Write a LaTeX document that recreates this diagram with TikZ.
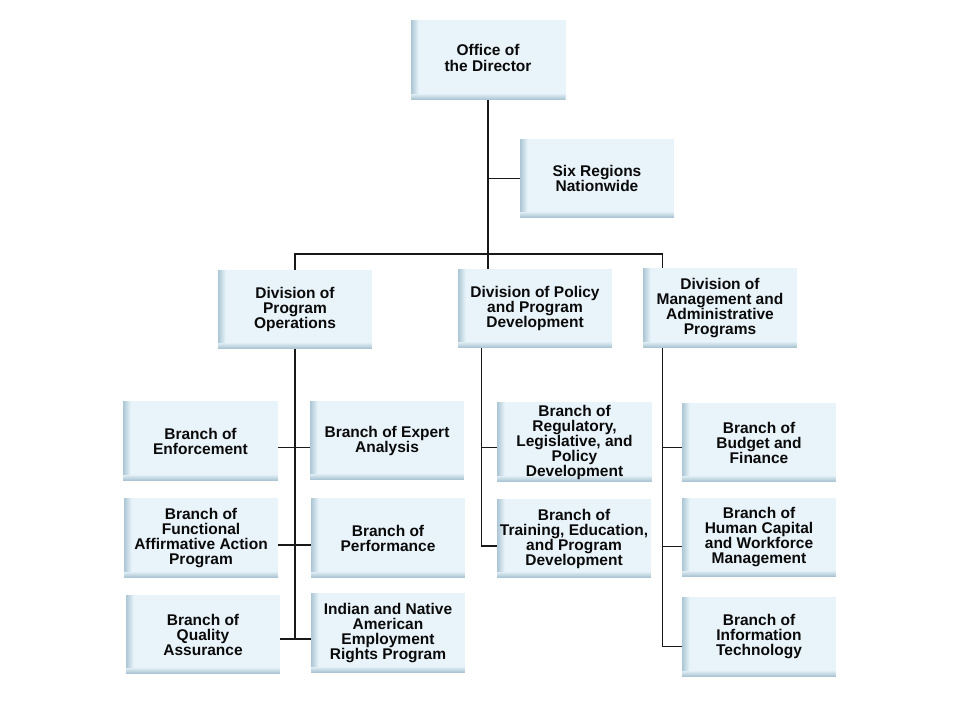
\documentclass[tikz,border=0pt]{standalone}
\usepackage{fontspec}
\setmainfont{Liberation Sans}
\usetikzlibrary{calc}
\definecolor{boxfill}{RGB}{233,244,250}
\definecolor{boxedge}{RGB}{172,198,212}
\definecolor{linec}{RGB}{25,25,25}
\definecolor{txt}{RGB}{10,10,10}
\tikzset{
  orgbox/.style={minimum width=154pt, minimum height=79pt, inner sep=0pt,
    fill=boxfill, align=center, text=txt,
    font=\fontsize{15.5}{15}\selectfont\bfseries,
    path picture={
      \foreach \i in {0,...,7}{
        \pgfmathsetmacro{\p}{100-\i*13}
        \fill[boxedge!\p!boxfill]
          ([xshift=\i pt]path picture bounding box.south west) rectangle ([xshift=\i pt+1.05pt]path picture bounding box.north west);
      }
      \foreach \i in {0,...,5}{
        \pgfmathsetmacro{\p}{100-\i*17}
        \fill[boxedge!\p!boxfill]
          ([yshift=\i pt]path picture bounding box.south west) rectangle ([yshift=\i pt+1.05pt]path picture bounding box.south east);
      }
    }},
  conn/.style={draw=linec, line width=1.3pt}
}
\begin{document}
\begin{tikzpicture}[x=1pt,y=-1pt]
\useasboundingbox (0,0) rectangle (960,720);
\fill[white] (0,0) rectangle (960,720);

\node[orgbox, minimum width=155pt, minimum height=80pt] (dir) at (488,60)
  {\raisebox{7pt}{\begin{tabular}{@{}c@{}}Office of\\the Director\end{tabular}}};
\node[orgbox] (six) at (597,178.5) {Six Regions\\ Nationwide};

\node[orgbox] (dpo) at (295,309.5) {Division of\\Program\\Operations};
\node[orgbox] (dpp) at (535,308.5) {Division of Policy\\and Program\\Development};
\node[orgbox, minimum height=80pt] (dma) at (720,308) {Division of\\Management and\\Administrative\\Programs};

\node[orgbox, minimum width=155pt, minimum height=80pt] (benf) at (200.5,441) {Branch of\\Enforcement};
\node[orgbox] (bexp) at (387,440.5) {Branch of Expert\\Analysis};
\node[orgbox, minimum height=80pt] (bfun) at (201,538) {Branch of\\Functional\\Affirmative Action\\Program};
\node[orgbox, minimum height=80pt] (bper) at (388,538) {Branch of\\Performance};
\node[orgbox] (bqa) at (203,634.5) {Branch of\\Quality\\Assurance};
\node[orgbox, minimum height=80pt] (bind) at (388,633) {Indian and Native\\American\\Employment\\Rights Program};

\node[orgbox, minimum width=155pt, minimum height=80pt] (breg) at (574.5,442) {Branch of\\Regulatory,\\Legislative, and\\Policy\\Development};
\node[orgbox] (btra) at (574,538.5) {Branch of\\Training, Education,\\and Program\\Development};

\node[orgbox] (bbud) at (759,442.5) {Branch of\\Budget and\\Finance};
\node[orgbox] (bhum) at (759,537.5) {Branch of\\Human Capital\\and Workforce\\Management};
\node[orgbox, minimum height=80pt] (bit) at (759,637) {Branch of\\Information\\Technology};

% helper coordinates
\coordinate (bary) at (0,254);
\coordinate (mtop) at ([xshift=20pt]dma.north west);
\coordinate (mbot) at ([xshift=20pt]dma.south west);
\coordinate (ptop) at ([xshift=24pt]dpp.south west);
\coordinate (l1) at (0,447.3);
\coordinate (l2) at (0,545);
\coordinate (l3) at (0,639);
\coordinate (p1) at (0,447.7);
\coordinate (p2) at (0,546);
\coordinate (m1) at (0,447.3);
\coordinate (m2) at (0,546.7);
\coordinate (m3) at (0,646.7);

% top
\draw[conn] (dir.south) -- (dir.south |- dpp.north);
\draw[conn] (dir.south |- six.west) -- (six.west);
\draw[conn] (dpo.north) -- (dpo.north |- bary) -- (mtop |- bary) -- (mtop);

% program operations
\draw[conn] (dpo.south) -- (dpo.south |- l3);
\draw[conn] (benf.east |- l1) -- (bexp.west |- l1);
\draw[conn] (bfun.east |- l2) -- (bper.west |- l2);
\draw[conn] (bqa.east |- l3) -- (bind.west |- l3);

% policy
\draw[conn] (ptop) -- (ptop |- p2) -- (btra.west |- p2);
\draw[conn] (ptop |- p1) -- (breg.west |- p1);

% management
\draw[conn] (mbot) -- (mbot |- m3) -- (bit.west |- m3);
\draw[conn] (mbot |- m1) -- (bbud.west |- m1);
\draw[conn] (mbot |- m2) -- (bhum.west |- m2);
\end{tikzpicture}
\end{document}
